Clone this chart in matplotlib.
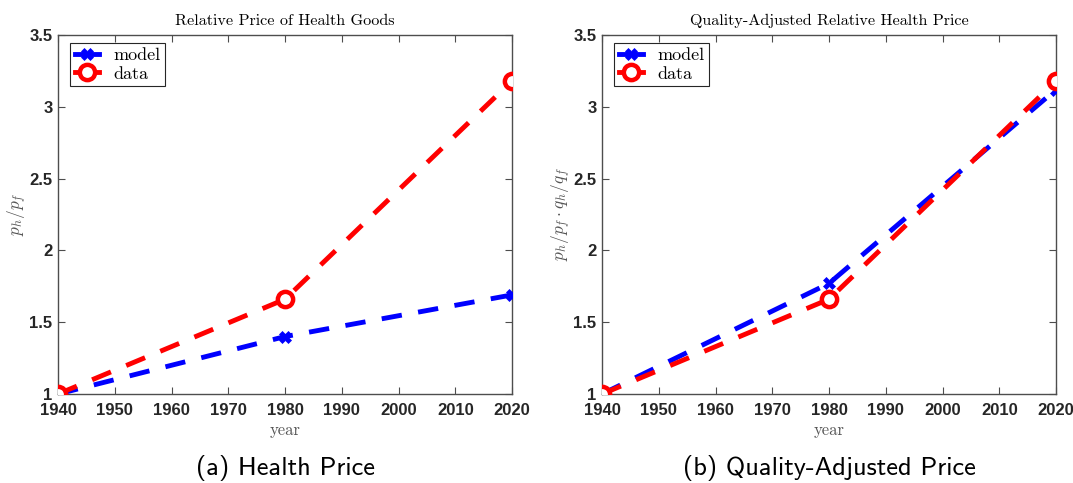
"""Two-panel relative health price figure: model vs data, 1940-2020."""

import matplotlib
matplotlib.use("Agg")
import matplotlib.pyplot as plt
from matplotlib.legend_handler import HandlerLine2D

years = [1940, 1980, 2020]
model_price = [1.0, 1.40, 1.69]
data_price = [1.0, 1.66, 3.18]
model_qadj = [1.0, 1.77, 3.12]
data_qadj = [1.0, 1.66, 3.18]

xticks = [1940, 1950, 1960, 1970, 1980, 1990, 2000, 2010, 2020]
yticks = [1, 1.5, 2, 2.5, 3, 3.5]
ytick_labels = ["1", "1.5", "2", "2.5", "3", "3.5"]

BLUE = "#0000ff"
RED = "#ff0000"
TICK = "#262626"
SPINE = "#4d4d4d"

plt.rcParams.update({"mathtext.fontset": "cm", "axes.unicode_minus": False})


class EndMarker(HandlerLine2D):
    # matlab-style legend entry: short solid line, marker near the right end
    def get_xdata(self, legend, xdescent, ydescent, width, height, fontsize):
        xdata = [-xdescent, -xdescent + width]
        return xdata, [-xdescent + 0.72 * width]


def solid(h, orig):
    h.update_from(orig)
    h.set_linestyle("-")


fig = plt.figure(figsize=(10.73, 4.83), dpi=100)
W, H = 1073, 483
ax1 = fig.add_axes([58 / W, 1 - 394 / H, (512 - 58) / W, (394 - 35) / H])
ax2 = fig.add_axes([602 / W, 1 - 394 / H, (1056 - 602) / W, (394 - 35) / H])

panels = [
    (ax1, model_price, data_price, "Relative Price of Health Goods",
     r"$p_h/p_f$", "(a) Health Price"),
    (ax2, model_qadj, data_qadj, "Quality-Adjusted Relative Health Price",
     r"$p_h/p_f\cdot q_h/q_f$", "(b) Quality-Adjusted Price"),
]

for ax, m, d, title, ylab, cap in panels:
    lm, = ax.plot(years, m, color=BLUE, lw=3.5, dashes=(4.2, 3.4), marker="X",
                  ms=8.5, mec=BLUE, mfc=BLUE, mew=0.5, label="model", zorder=3)
    ld, = ax.plot(years, d, color=RED, lw=3.5, dashes=(4.2, 3.4), marker="o",
                  ms=11, mec=RED, mfc="white", mew=3.2, label="data", zorder=4)
    ax.set_xlim(1940, 2020)
    ax.set_ylim(1, 3.5)
    ax.set_xticks(xticks)
    ax.set_yticks(yticks)
    ax.set_yticklabels(ytick_labels)
    ax.tick_params(direction="in", top=True, right=True, length=5,
                   width=0.8, color=SPINE, labelcolor=TICK, labelsize=12)
    ax.tick_params(axis="x", pad=6.5)
    ax.tick_params(axis="y", pad=4)
    for lbl in ax.get_xticklabels() + ax.get_yticklabels():
        lbl.set_fontweight("bold")
        lbl.set_family("Liberation Sans")
    for s in ax.spines.values():
        s.set_color(SPINE)
        s.set_linewidth(1.0)
    ax.set_title(title, family="cmr10", fontsize=11.6, color="black", pad=7)
    ax.set_xlabel("year", family="cmr10", fontsize=12, color="#555555",
                  labelpad=3)
    ax.set_ylabel(ylab, fontsize=12.5, color="#555555", labelpad=0)
    hm = {lm: EndMarker(update_func=solid), ld: EndMarker(update_func=solid)}
    leg = ax.legend(handles=[lm, ld], handler_map=hm, loc="upper left",
                    bbox_to_anchor=(12 / 454, 1 - 8 / 359), borderaxespad=0,
                    prop={"family": "cmr10", "size": 13},
                    fancybox=False, framealpha=1, edgecolor="#262626",
                    handlelength=1.35, borderpad=0.25, labelspacing=0.15,
                    handletextpad=0.8)
    leg.get_frame().set_linewidth(0.8)
    bb = ax.get_position()
    fig.text(bb.x0 + bb.width / 2, 1 - 468 / H, cap, family="cmss10",
             fontsize=19, ha="center", va="center")

fig.savefig("out.png", dpi=100)
